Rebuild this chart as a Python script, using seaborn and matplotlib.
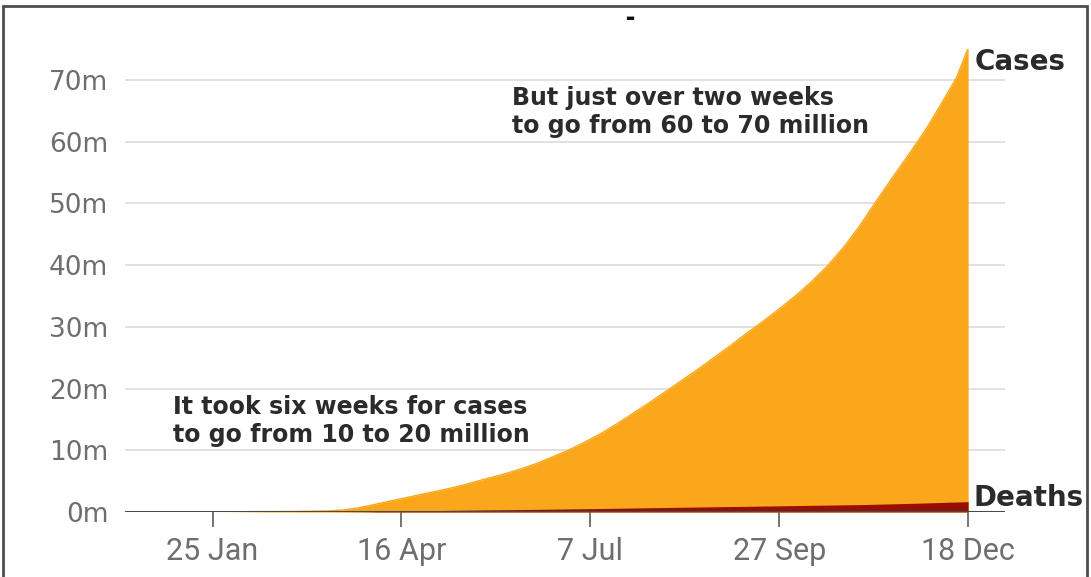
import pandas as pd
import numpy as np
import matplotlib
matplotlib.use("Agg")
import matplotlib.pyplot as plt
from matplotlib.patches import Rectangle
import seaborn as sns

# cumulative global totals, millions
dates = ["2020-01-22", "2020-02-01", "2020-02-15", "2020-03-01", "2020-03-15", "2020-03-22",
         "2020-03-29", "2020-04-05", "2020-04-12", "2020-04-19", "2020-04-26", "2020-05-03",
         "2020-05-10", "2020-05-17", "2020-05-24", "2020-05-31", "2020-06-07", "2020-06-14",
         "2020-06-21", "2020-06-28", "2020-07-05", "2020-07-12", "2020-07-19", "2020-07-26",
         "2020-08-02", "2020-08-09", "2020-08-16", "2020-08-23", "2020-08-30", "2020-09-06",
         "2020-09-13", "2020-09-20", "2020-09-27", "2020-10-04", "2020-10-11", "2020-10-18",
         "2020-10-25", "2020-11-01", "2020-11-08", "2020-11-15", "2020-11-22", "2020-11-29",
         "2020-12-06", "2020-12-13", "2020-12-18"]
cases = [0.0006, 0.012, 0.069, 0.088, 0.17, 0.34,
         0.72, 1.27, 1.85, 2.4, 2.97, 3.5,
         4.1, 4.8, 5.5, 6.2, 7.0, 7.9,
         9.0, 10.1, 11.4, 12.8, 14.4, 16.1,
         17.8, 19.6, 21.4, 23.2, 25.1, 27.0,
         29.0, 30.9, 32.9, 35.0, 37.3, 39.9,
         42.9, 46.4, 50.3, 54.1, 57.8, 61.6,
         65.9, 70.4, 75.2]
deaths = [0.0, 0.0003, 0.0017, 0.003, 0.0065, 0.015,
          0.034, 0.07, 0.115, 0.165, 0.206, 0.245,
          0.28, 0.315, 0.345, 0.372, 0.4, 0.43,
          0.465, 0.5, 0.535, 0.57, 0.61, 0.65,
          0.69, 0.73, 0.77, 0.81, 0.85, 0.885,
          0.92, 0.96, 1.0, 1.04, 1.08, 1.12,
          1.16, 1.2, 1.26, 1.32, 1.39, 1.46,
          1.54, 1.62, 1.68]

tick_dates = ["2020-01-25", "2020-04-16", "2020-07-07", "2020-09-27", "2020-12-18"]
tick_labels = ["25 Jan", "16 Apr", "7 Jul", "27 Sep", "18 Dec"]
y_ticks = [0, 10, 20, 30, 40, 50, 60, 70]

CASES_COL = "#FBA71B"
DEATHS_COL = "#970F01"
TEXT_COL = "#2b2b2b"
TICK_COL = "#6e6e6e"

df = pd.DataFrame({"date": pd.to_datetime(dates), "cases": cases, "deaths": deaths})

sns.set_theme(style="white")
plt.rcParams["font.family"] = ["Open Sans", "DejaVu Sans"]

fig = plt.figure(figsize=(10.91, 5.77), dpi=100)
ax = fig.add_axes([125 / 1091, 65 / 577, 880 / 1091, 463 / 577])

ax.fill_between(df["date"], 0, df["cases"], color=CASES_COL, lw=0, zorder=2)
sns.lineplot(data=df, x="date", y="cases", color=CASES_COL, lw=1, ax=ax, zorder=2)
ax.fill_between(df["date"], 0, df["deaths"], color=DEATHS_COL, lw=0, zorder=3)

ax.set_xlim(pd.Timestamp("2019-12-18"), pd.Timestamp("2021-01-03"))
ax.set_ylim(0, 75)

ax.set_yticks(y_ticks)
ax.set_yticklabels([f"{v}m" for v in y_ticks])
ax.set_xticks(pd.to_datetime(tick_dates))
ax.set_xticklabels(tick_labels)

for v in y_ticks[1:]:
    ax.axhline(v, color="#dcdcdc", lw=1.2, zorder=1)
ax.axhline(0, color="#4a4a4a", lw=2.2, zorder=4)

for s in ax.spines.values():
    s.set_visible(False)
ax.set_xlabel("")
ax.set_ylabel("")

ax.tick_params(axis="y", length=0, pad=12, labelsize=19, labelcolor=TICK_COL)
ax.tick_params(axis="x", length=11, width=1.3, color="#6a6a6a", pad=7,
               labelsize=22, labelcolor=TICK_COL, bottom=True, direction="out")
for lab in ax.get_yticklabels():
    lab.set_fontfamily(["DejaVu Sans"])
for lab in ax.get_xticklabels():
    lab.set_fontfamily(["Roboto", "DejaVu Sans"])

note_font = ["DejaVu Sans"]
fig.text(512 / 1091, 1 - 112 / 577, "But just over two weeks\nto go from 60 to 70 million",
         ha="left", va="center", fontsize=17, fontweight="bold", color=TEXT_COL,
         linespacing=1.2, family=note_font)
fig.text(173 / 1091, 1 - 421 / 577, "It took six weeks for cases\nto go from 10 to 20 million",
         ha="left", va="center", fontsize=17, fontweight="bold", color=TEXT_COL,
         linespacing=1.2, family=note_font)
fig.text(975 / 1091, 1 - 62 / 577, "Cases", ha="left", va="center", fontsize=20,
         fontweight="bold", color=TEXT_COL, family=note_font)
fig.text(974 / 1091, 1 - 498 / 577, "Deaths", ha="left", va="center", fontsize=20,
         fontweight="bold", color=TEXT_COL, family=note_font)
fig.text(630 / 1091, 1 - 18 / 577, "-", ha="center", va="center", fontsize=20,
         fontweight="bold", color="#111111")

# screenshot frame
fig.patches.append(Rectangle((3 / 1091, -0.1), 1084 / 1091, 1.1 - 6 / 577,
                             transform=fig.transFigure, fill=False,
                             edgecolor="#4d4d4d", lw=2, zorder=10))

fig.savefig("out.png", dpi=100, facecolor="white")
